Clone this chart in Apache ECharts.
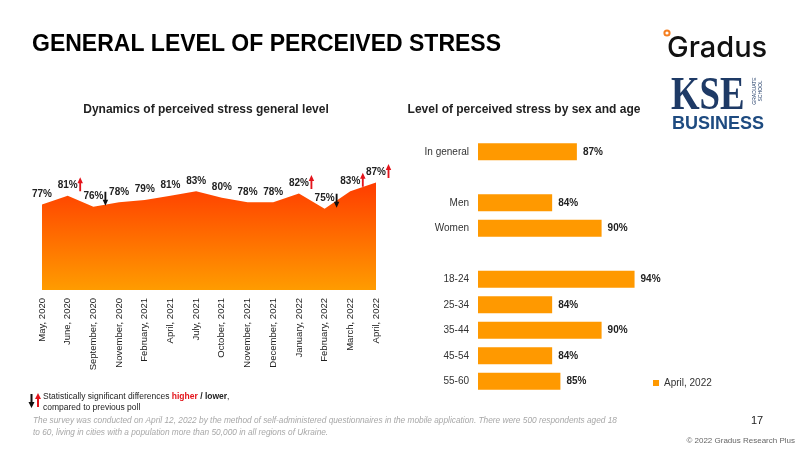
<!DOCTYPE html>
<html>
<head>
<meta charset="utf-8">
<script src="https://cdn.jsdelivr.net/npm/echarts@6/dist/echarts.min.js"></script>
<style>html,body{margin:0;padding:0;background:#fff}#c{width:800px;height:450px}</style>
</head>
<body>
<div id="c"></div>
<script>
const months = ['May, 2020','June, 2020','September, 2020','November, 2020','February, 2021','April, 2021','July, 2021','October, 2021','November, 2021','December, 2021','January, 2022','February, 2022','March, 2022','April, 2022'];
const stress = [77,81,76,78,79,81,83,80,78,78,82,75,83,87];
const change = ['','up','down','','','','','','','','up','down','up','up'];
const groups = ['In general',' ','Men','Women','  ','18-24','25-34','35-44','45-54','55-60'];
const groupValues = [87,null,84,90,null,94,84,90,84,85];
const seriesName = 'April, 2022';

const F = 'Liberation Sans, Arial, sans-serif';
const UP = 'M3,0 L6,6 L4,6 L4,14 L2,14 L2,6 L0,6 Z';
const DOWN = 'M3,14 L6,8 L4,8 L4,0 L2,0 L2,8 L0,8 Z';
const upData = stress.map((v,i)=> change[i]==='up' ? v : '-');
const downData = stress.map((v,i)=> change[i]==='down' ? v : '-');

const chart = echarts.init(document.getElementById('c'), null, {renderer:'canvas'});
chart.setOption({
  animation:false,
  backgroundColor:'#fff',
  textStyle:{fontFamily:F},
  legend:{data:[seriesName], left:648, top:373, icon:'rect', itemWidth:6, itemHeight:6, itemGap:4,
    textStyle:{fontSize:10, color:'#333', fontFamily:F}},
  grid:[
    {left:42, right:424, top:154, bottom:160},
    {left:478, right:116, top:139, bottom:56}
  ],
  xAxis:[
    {type:'category', gridIndex:0, data:months, boundaryGap:false,
     axisLine:{show:false}, axisTick:{show:false}, splitLine:{show:false},
     axisLabel:{rotate:90, interval:0, margin:8, fontSize:9.5, color:'#222', fontFamily:F}},
    {type:'value', gridIndex:1, min:75, max:100, show:false}
  ],
  yAxis:[
    {type:'value', gridIndex:0, min:38, max:100, show:false},
    {type:'category', gridIndex:1, data:groups, inverse:true,
     axisLine:{show:false}, axisTick:{show:false}, splitLine:{show:false},
     axisLabel:{margin:9, fontSize:10, color:'#333', fontFamily:F}}
  ],
  series:[
    {type:'line', xAxisIndex:0, yAxisIndex:0, data:stress, symbol:'circle', symbolSize:1, showSymbol:true,
     itemStyle:{color:'rgba(255,80,0,0)', borderWidth:0},
     lineStyle:{width:0},
     areaStyle:{opacity:1, color:new echarts.graphic.LinearGradient(0,0,0,1,[
       {offset:0,color:'#ff3c00'},{offset:1,color:'#ff9c00'}])},
     label:{show:true, position:'top', distance:5, formatter:'{c}%',
       fontSize:10, fontWeight:'bold', color:'#222', fontFamily:F}
    },
    {type:'scatter', name:'higher', xAxisIndex:0, yAxisIndex:0, data:upData, z:5,
     symbol:'path://'+UP, symbolSize:[5.5,14], symbolOffset:[12.5,-11.5], itemStyle:{color:'#e3141b', opacity:1}},
    {type:'scatter', name:'lower', xAxisIndex:0, yAxisIndex:0, data:downData, z:5,
     symbol:'path://'+DOWN, symbolSize:[5.5,14], symbolOffset:[12,-8], itemStyle:{color:'#111', opacity:1}},
    {type:'bar', name:seriesName, xAxisIndex:1, yAxisIndex:1, data:groupValues, barWidth:17,
     itemStyle:{color:'#ff9900'},
     label:{show:true, position:'right', distance:6, formatter:'{c}%', fontSize:10, fontWeight:'bold', color:'#222', fontFamily:F}}
  ],
  graphic:[
    {type:'text', left:32, top:33, style:{text:'GENERAL LEVEL OF PERCEIVED STRESS', font:'bold 23px '+F, fill:'#000'}},
    {type:'text', x:206, y:110, style:{text:'Dynamics of perceived stress general level', font:'bold 12px '+F, fill:'#222', align:'center', verticalAlign:'middle'}},
    {type:'text', x:524, y:110, style:{text:'Level of perceived stress by sex and age', font:'bold 12px '+F, fill:'#222', align:'center', verticalAlign:'middle'}},
    // Gradus logo
    {type:'circle', shape:{cx:667, cy:33, r:2.6}, style:{fill:'none', stroke:'#f57f20', lineWidth:2}},
    {type:'text', x:667, y:48, style:{text:'Gradus', font:'500 29px Inter, Roboto, sans-serif', fill:'#111', verticalAlign:'middle'}},
    // KSE logo
    {type:'text', x:671, y:97, scaleX:0.8, style:{text:'KSE', font:'bold 46px "Liberation Serif", serif', fill:'#1e3a66', verticalAlign:'middle'}},
    {type:'text', x:755, y:91, rotation:Math.PI/2, style:{text:'GRADUATE', font:'5px '+F, fill:'#1e3a66', align:'center', verticalAlign:'middle'}},
    {type:'text', x:761, y:91, rotation:Math.PI/2, style:{text:'SCHOOL', font:'5px '+F, fill:'#1e3a66', align:'center', verticalAlign:'middle'}},
    {type:'text', x:672, y:124.5, style:{text:'BUSINESS', font:'bold 18px '+F, fill:'#1e4b80', verticalAlign:'middle'}},
    // footer legend arrows
    {type:'polygon', shape:{points:[[31.5,408],[34.5,402],[32.5,402],[32.5,394],[30.5,394],[30.5,402],[28.5,402]]}, style:{fill:'#111'}},
    {type:'polygon', shape:{points:[[38,393],[41,399],[39,399],[39,407],[37,407],[37,399],[35,399]]}, style:{fill:'#e3141b'}},
    {type:'text', x:43, y:397, style:{text:'Statistically significant differences {h|higher} {b|/ lower},', font:'8.5px '+F, fill:'#222', verticalAlign:'middle',
      rich:{h:{fontSize:8.5, fontWeight:'bold', fill:'#e3141b', fontFamily:F}, b:{fontSize:8.5, fontWeight:'bold', fill:'#222', fontFamily:F}}}},
    {type:'text', x:43, y:408, style:{text:'compared to previous poll', font:'8.5px '+F, fill:'#222', verticalAlign:'middle'}},
    {type:'text', x:33, y:421, style:{text:'The survey was conducted on April 12, 2022 by the method of self-administered questionnaires in the mobile application. There were 500 respondents aged 18', font:'italic 8.3px '+F, fill:'#a8a8a8', verticalAlign:'middle'}},
    {type:'text', x:33, y:433, style:{text:'to 60, living in cities with a population more than 50,000 in all regions of Ukraine.', font:'italic 8.3px '+F, fill:'#a8a8a8', verticalAlign:'middle'}},
    {type:'text', x:757, y:421, style:{text:'17', font:'11px '+F, fill:'#222', align:'center', verticalAlign:'middle'}},
    {type:'text', x:795, y:441, style:{text:'© 2022 Gradus Research Plus', font:'8px '+F, fill:'#666', align:'right', verticalAlign:'middle'}}
  ]
});
</script>
</body>
</html>
